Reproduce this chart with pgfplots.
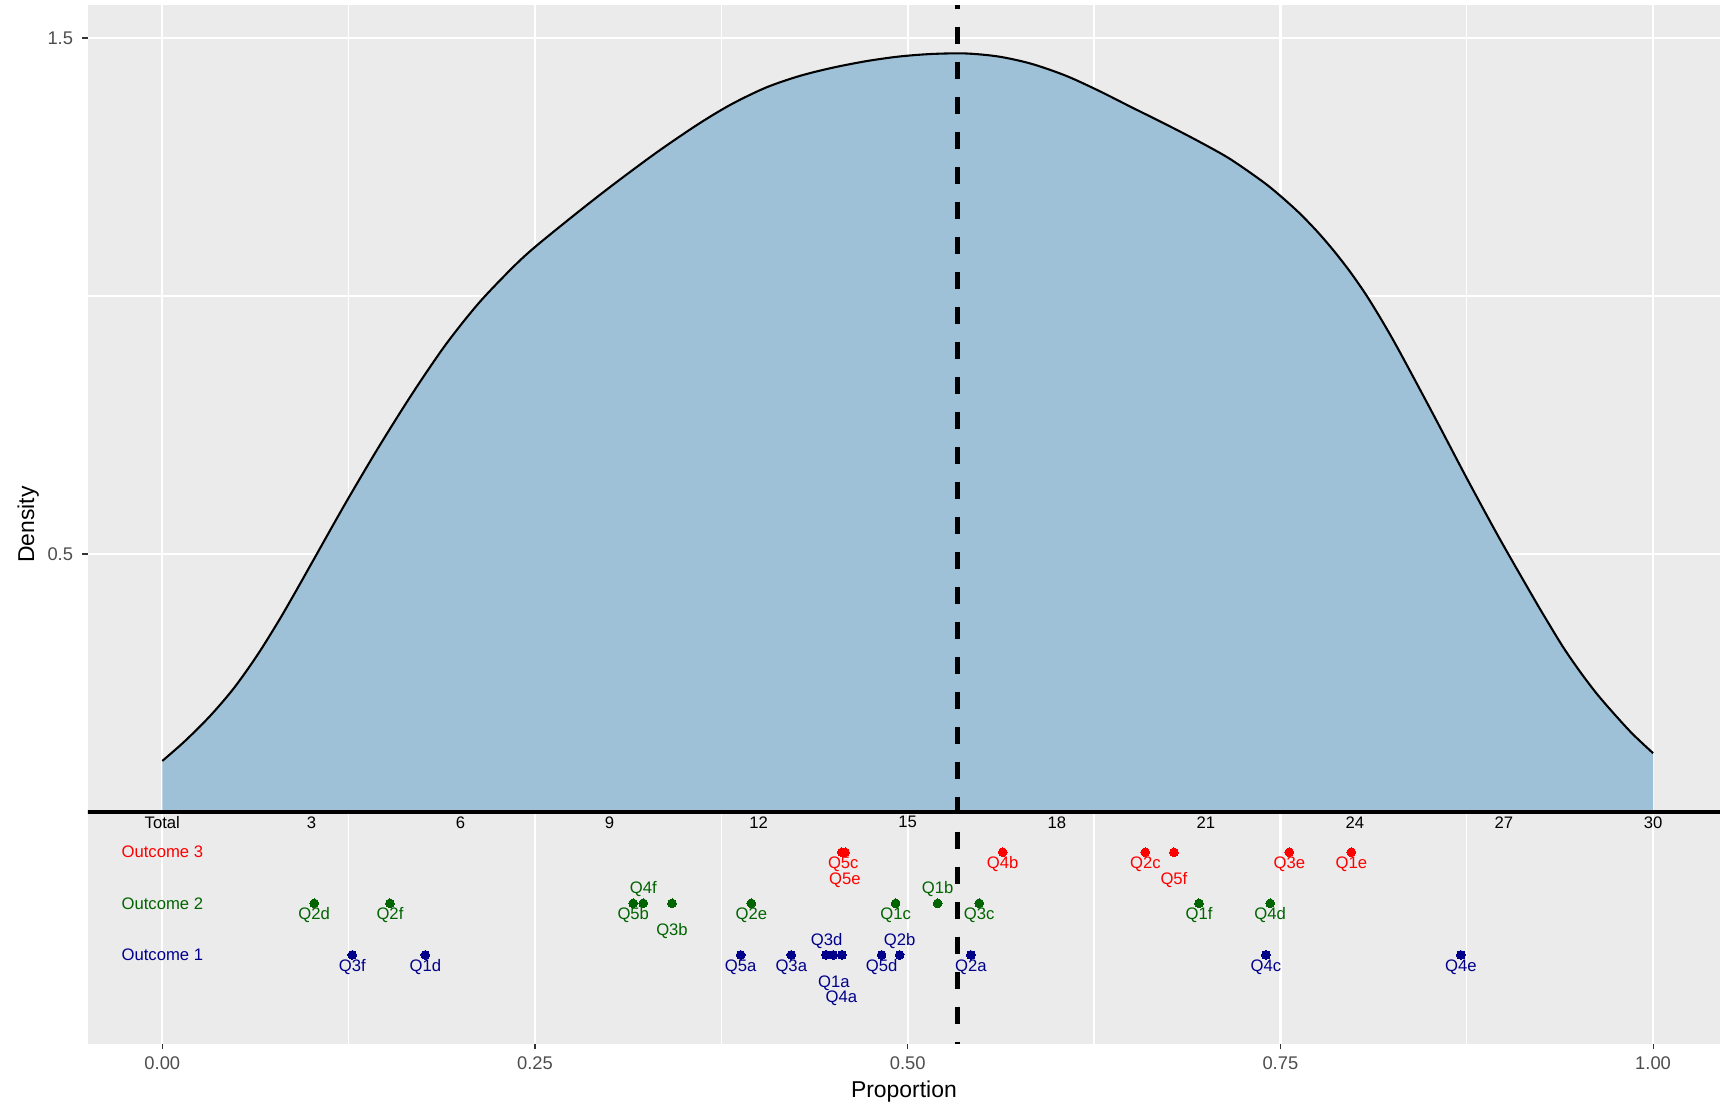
\documentclass[border=0pt]{standalone}
\usepackage{fontspec}
\setmainfont{Liberation Sans}
\usepackage{pgfplots}
\usepackage{pgfplotstable}
\pgfplotsset{compat=1.18}
\definecolor{panelgrey}{HTML}{EBEBEB}
\definecolor{grey30}{HTML}{4D4D4D}
\definecolor{grey20}{HTML}{333333}
\definecolor{densfill}{RGB}{159,193,216}
\definecolor{cred}{HTML}{FF0000}
\definecolor{cgreen}{HTML}{006400}
\definecolor{cblue}{HTML}{00008B}
\pgfplotsset{
  lab/.style={draw=none, mark=none, nodes near coords, point meta=explicit symbolic,
    every node near coord/.append style={anchor=center, inner sep=0pt, font=\fontsize{8}{9}\selectfont, text=#1}},
  pts/.style={only marks, mark=*, mark size=2.1pt, mark options={solid, fill=#1, draw=#1, line width=0pt}}
}
\pgfplotstableread{
x y
0.000 0.099
0.015 0.137
0.032 0.186
0.048 0.240
0.0635 0.303
0.078 0.370
0.090 0.430
0.1015 0.489
0.1228 0.598
0.1451 0.707
0.1675 0.810
0.1899 0.905
0.2122 0.986
0.2346 1.054
0.250 1.095
0.279 1.163
0.303 1.217
0.332 1.279
0.360 1.334
0.382 1.372
0.405 1.404
0.427 1.426
0.449 1.442
0.472 1.455
0.494 1.464
0.516 1.469
0.539 1.470
0.561 1.464
0.583 1.450
0.606 1.427
0.628 1.398
0.650 1.366
0.673 1.333
0.695 1.300
0.716 1.266
0.738 1.222
0.750 1.194
0.763 1.160
0.775 1.124
0.786 1.087
0.797 1.046
0.808 1.000
0.819 0.948
0.830 0.892
0.853 0.768
0.875 0.647
0.897 0.530
0.920 0.414
0.929 0.370
0.940 0.318
0.951 0.272
0.962 0.230
0.973 0.193
0.986 0.152
1.000 0.114
}\densdata
\begin{document}
\begin{tikzpicture}
\useasboundingbox (-42.14pt,-30.72pt) rectangle (783.46pt,501.12pt);
\begin{axis}[
  at={(0,0)}, anchor=south west,
  scale only axis, width=783.46pt, height=498.48pt,
  xmin=-0.05, xmax=1.0449, ymin=-0.4496, ymax=1.563,
  axis background/.style={fill=panelgrey},
  axis line style={draw=none},
  xtick={0,0.25,0.5,0.75,1}, xticklabels={0.00,0.25,0.50,0.75,1.00},
  ytick={0.5,1.5}, yticklabels={0.5,1.5},
  minor xtick={0.125,0.375,0.625,0.875},
  minor ytick={0,1},
  grid=both,
  major grid style={white, line width=1.1pt},
  minor grid style={white, line width=0.55pt},
  tick align=outside, tick pos=left,
  major tick length=2.6pt, minor tick length=0pt,
  every tick/.style={grey20, line width=0.5pt},
  tick label style={font=\fontsize{8.8}{10}\selectfont, text=grey30},
  xticklabel style={anchor=base, inner sep=0pt, yshift=-9.6pt},
  yticklabel style={anchor=east, inner sep=0pt, xshift=-4.3pt},
  xlabel=Proportion, ylabel=Density,
  every axis x label/.style={at={(axis description cs:0.5,-0.052)}, anchor=base, font=\fontsize{11}{13}\selectfont},
  every axis y label/.style={at={(axis description cs:-0.0329,0.5)}, rotate=90, anchor=base, font=\fontsize{11}{13}\selectfont},
]
% density area
\addplot[fill=densfill, draw=none, smooth, tension=0.5] table[x=x, y=y] {\densdata} \closedcycle;
\addplot[black, line width=1pt, smooth, tension=0.5] table[x=x, y=y] {\densdata};
% zero line
\addplot[black, line width=1.6pt] coordinates {(-0.06,0) (1.06,0)};
% total row labels
\addplot[lab=black] table[meta=lab] {
x y lab
0.0 -0.020 Total
0.1 -0.020 3
0.2 -0.020 6
0.3 -0.020 9
0.4 -0.020 12
0.5 -0.020 15
0.6 -0.020 18
0.7 -0.020 21
0.8 -0.020 24
0.9 -0.020 27
1.0 -0.020 30
};
\addplot[lab=cred] table[meta=lab] {
x y lab
0 -0.078 {Outcome 3}
};
\addplot[lab=cgreen] table[meta=lab] {
x y lab
0 -0.177 {Outcome 2}
};
\addplot[lab=cblue] table[meta=lab] {
x y lab
0 -0.277 {Outcome 1}
};
% Outcome 3 points
\addplot[pts=cred] coordinates {
(0.4558,-0.078) (0.4580,-0.078) (0.5637,-0.078) (0.6594,-0.078) (0.6786,-0.078) (0.7560,-0.078) (0.7976,-0.078)
};
\addplot[lab=cred] table[meta=lab] {
x y lab
0.4568 -0.101 Q5c
0.4579 -0.132 Q5e
0.5637 -0.101 Q4b
0.6594 -0.101 Q2c
0.6786 -0.132 Q5f
0.7560 -0.101 Q3e
0.7976 -0.101 Q1e
};
% Outcome 2 points
\addplot[pts=cgreen] coordinates {
(0.1019,-0.177) (0.1527,-0.177) (0.3159,-0.177) (0.3226,-0.177) (0.3419,-0.177) (0.3951,-0.177)
(0.4919,-0.177) (0.5201,-0.177) (0.5480,-0.177) (0.6954,-0.177) (0.7432,-0.177)
};
\addplot[lab=cgreen] table[meta=lab] {
x y lab
0.1019 -0.200 Q2d
0.1527 -0.200 Q2f
0.3226 -0.150 Q4f
0.3159 -0.200 Q5b
0.3419 -0.231 Q3b
0.3951 -0.200 Q2e
0.4919 -0.200 Q1c
0.5201 -0.150 Q1b
0.5480 -0.200 Q3c
0.6954 -0.200 Q1f
0.7432 -0.200 Q4d
};
% Outcome 1 points
\addplot[pts=cblue] coordinates {
(0.1274,-0.277) (0.1764,-0.277) (0.3880,-0.277) (0.4219,-0.277) (0.4452,-0.277) (0.4501,-0.277)
(0.4559,-0.277) (0.4825,-0.277) (0.4946,-0.277) (0.5424,-0.277) (0.7403,-0.277) (0.8711,-0.277)
};
\addplot[lab=cblue] table[meta=lab] {
x y lab
0.1274 -0.300 Q3f
0.1764 -0.300 Q1d
0.3880 -0.300 Q5a
0.4219 -0.300 Q3a
0.4456 -0.251 Q3d
0.4505 -0.331 Q1a
0.4555 -0.361 Q4a
0.4825 -0.300 Q5d
0.4946 -0.251 Q2b
0.5424 -0.300 Q2a
0.7403 -0.300 Q4c
0.8711 -0.300 Q4e
};
% mean line
\addplot[black, line width=2.3pt, dash pattern=on 8.4pt off 8.4pt, dash phase=6.6pt] coordinates {(0.5333,1.563) (0.5333,-0.4496)};
\end{axis}
\end{tikzpicture}
\end{document}
